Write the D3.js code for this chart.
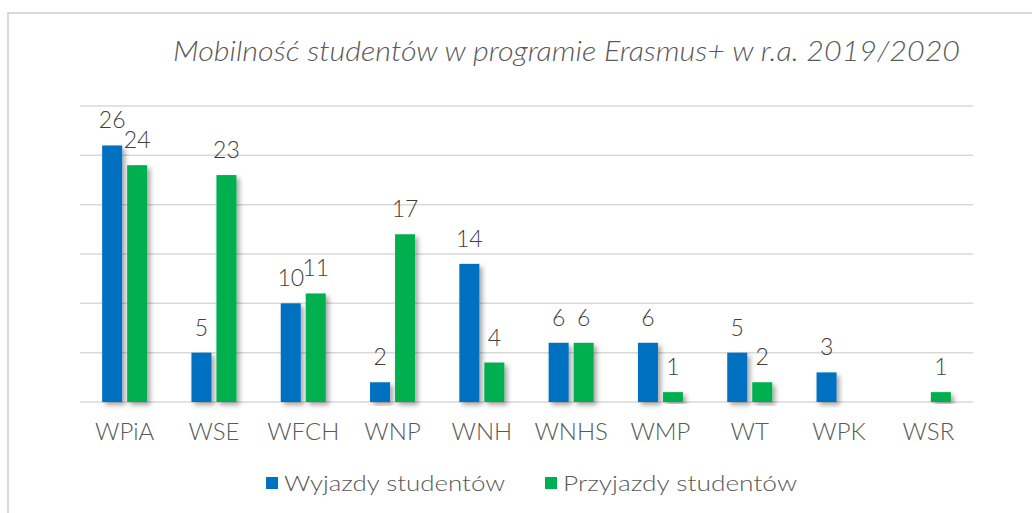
<!DOCTYPE html>
<html lang="pl">
<head>
  <meta charset="UTF-8">
  <title>Mobilność studentów</title>
  <script src="https://cdn.jsdelivr.net/npm/d3@7"></script>
  <style>
  body { margin: 0; background: #fff; }
  svg text { font-family: Lato, "Open Sans", sans-serif; font-weight: 300; fill: #595959; }
  .title { font-style: italic; font-size: 28px; }
  .x-axis text { font-size: 24px; }
  .value-label { font-size: 23px; fill: #404040; }
  .legend text { font-size: 22px; }
  </style>
</head>
<body>
<svg id="chart" width="1032" height="513"></svg>
<script>
  // Data
  const categories = ['WPiA', 'WSE', 'WFCH', 'WNP', 'WNH', 'WNHS', 'WMP', 'WT', 'WPK', 'WSR'];
  const seriesNames = ['Wyjazdy studentów', 'Przyjazdy studentów'];
  const wyjazdy = [26, 5, 10, 2, 14, 6, 6, 5, 3, 0];
  const przyjazdy = [24, 23, 11, 17, 4, 6, 1, 2, 0, 1];
  const gridTicks = [0, 5, 10, 15, 20, 25, 30];
  const colors = ['#0070c0', '#00b050'];
  const titleText = 'Mobilność studentów w programie Erasmus+ w r.a. 2019/2020';

  const svg = d3.select('#chart');

  // drop shadow for the bars
  const defs = svg.append('defs');
  defs.append('filter')
      .attr('id', 'shadow')
      .attr('x', '-30%').attr('y', '-10%')
      .attr('width', '180%').attr('height', '130%')
    .append('feDropShadow')
      .attr('dx', 3).attr('dy', 3)
      .attr('stdDeviation', 2.5)
      .attr('flood-color', '#000')
      .attr('flood-opacity', 0.35);

  // outer frame (only left and top are visible)
  svg.append('path')
    .attr('d', 'M8,513 V13 H1032')
    .attr('fill', 'none')
    .attr('stroke', '#d9d9d9')
    .attr('stroke-width', 2);

  const x0 = d3.scaleBand().domain(categories).range([80, 973]);
  const x1 = d3.scaleBand().domain(seriesNames).range([0, 45]).paddingInner(0.2);
  const y = d3.scaleLinear().domain([0, 30]).range([402, 106]);

  // gridlines
  svg.append('g')
    .selectAll('line')
    .data(gridTicks)
    .join('line')
      .attr('x1', 80).attr('x2', 973)
      .attr('y1', d => y(d)).attr('y2', d => y(d))
      .attr('stroke', '#d9d9d9')
      .attr('stroke-width', 1.5);

  // x axis labels
  const xAxis = svg.append('g')
    .attr('class', 'x-axis')
    .attr('transform', `translate(0,${y(0)})`)
    .call(d3.axisBottom(x0).tickSize(0).tickPadding(21));
  xAxis.select('.domain').remove();
  xAxis.selectAll('text').attr('fill', null).attr('dy', '0.71em');

  const offset = (x0.bandwidth() - 45) / 2;
  const rows = categories.map((c, i) => ({ key: c, values: [wyjazdy[i], przyjazdy[i]] }));

  const groups = svg.append('g')
    .selectAll('g')
    .data(rows)
    .join('g')
      .attr('transform', d => `translate(${x0(d.key) + offset},0)`);

  groups.selectAll('rect')
    .data(d => d.values.map((v, j) => ({ name: seriesNames[j], v: v, j: j })).filter(d => d.v > 0))
    .join('rect')
      .attr('x', d => x1(d.name))
      .attr('width', x1.bandwidth())
      .attr('y', d => y(d.v))
      .attr('height', d => y(0) - y(d.v))
      .attr('fill', d => colors[d.j])
      .attr('filter', 'url(#shadow)');

  groups.selectAll('text')
    .data(d => d.values.map((v, j) => ({ name: seriesNames[j], v: v })).filter(d => d.v > 0))
    .join('text')
      .attr('class', 'value-label')
      .attr('text-anchor', 'middle')
      .attr('x', d => x1(d.name) + x1.bandwidth() / 2)
      .attr('y', d => y(d.v) - 17)
      .text(d => d.v);

  // title
  svg.append('text')
    .attr('class', 'title')
    .attr('x', 173).attr('y', 61)
    .attr('textLength', 787)
    .attr('lengthAdjust', 'spacingAndGlyphs')
    .text(titleText);

  // legend
  const legendPos = [{ sx: 266, tx: 284, w: 221 }, { sx: 545, tx: 563, w: 234 }];
  const legend = svg.append('g').attr('class', 'legend');
  seriesNames.forEach((name, i) => {
    legend.append('rect')
      .attr('x', legendPos[i].sx).attr('y', 477)
      .attr('width', 12).attr('height', 12)
      .attr('fill', colors[i]);
    legend.append('text')
      .attr('x', legendPos[i].tx).attr('y', 491)
      .attr('textLength', legendPos[i].w)
      .attr('lengthAdjust', 'spacingAndGlyphs')
      .text(name);
  });
</script>
</body>
</html>
